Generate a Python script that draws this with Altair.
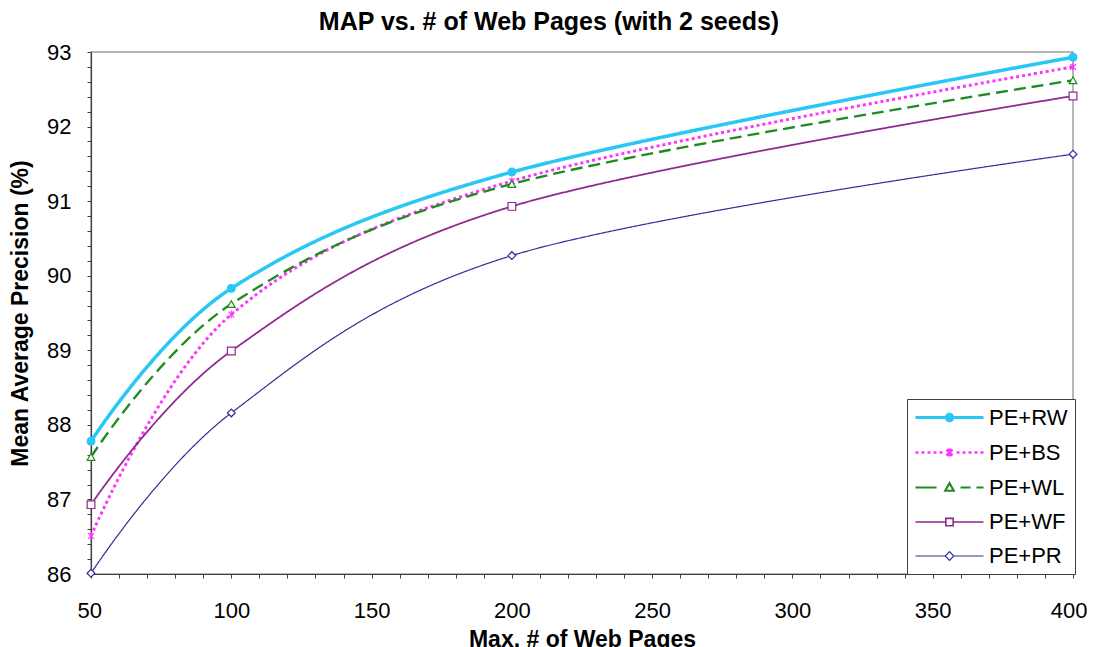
import altair as alt
import pandas as pd
import math

# ---- data ----
pages = [50, 100, 200, 400]
series_names = ["PE+RW", "PE+BS", "PE+WL", "PE+WF", "PE+PR"]
rw = [87.78, 89.83, 91.39, 92.93]
bs = [86.51, 89.48, 91.27, 92.80]
wl = [87.57, 89.62, 91.23, 92.62]
wf = [86.93, 88.99, 90.93, 92.41]
pr = [86.01, 88.16, 90.27, 91.63]

x_ticks = list(range(50, 401, 10))
y_ticks = [round(86 + 0.2 * i, 1) for i in range(36)]

colors = ["#29C8F4", "#FF33FF", "#1E8C1E", "#8E2A8E", "#2E2E96"]
fills = ["#29C8F4", "white", "white", "white", "white"]
line_widths = [3.5, 1.2, 1.2, 1.2, 1.2]
dashes = [[1, 0], [3, 3], [12, 6], [1, 0], [1, 0]]

ASTER = "M0,-1L0,1M-0.75,-0.75L0.75,0.75M-0.75,0.75L0.75,-0.75"
plot_shapes = ["circle", ASTER, "triangle-up", "square", "diamond"]

# ---- legend symbol geometry (pixels, line runs 0..68, marker at 34) ----
LEG_SIZE = 400           # symbol "diameter" 20px -> 10px per path unit
UNIT = math.sqrt(LEG_SIZE) / 2
CENTER = 10              # symbol centre x inside entry


def P(x, y):
    return f"{(x - CENTER) / UNIT:.3f},{y / UNIT:.3f}"


def seg(x1, x2):
    return f"M{P(x1, 0)}L{P(x2, 0)}"


def poly(pts):
    return "M" + "L".join(P(x, y) for x, y in pts) + "Z"


def circle(cx, r, n=14):
    return poly([(cx + r * math.cos(2 * math.pi * k / n), r * math.sin(2 * math.pi * k / n)) for k in range(n)])


C = 34
leg_rw = seg(0, C - 4) + seg(C + 4, 68) + circle(C, 3.3)
leg_bs = "".join(seg(a, a + 3) for a in [0, 6, 12, 18, 24]) + "".join(seg(a, a + 3) for a in [41, 47, 53, 59, 65]) \
    + f"M{P(C, -4)}L{P(C, 4)}M{P(C - 3, -3)}L{P(C + 3, 3)}M{P(C - 3, 3)}L{P(C + 3, -3)}"
leg_wl = seg(0, 21) + seg(45, 55) + seg(61, 68) + poly([(C - 4.3, 3.3), (C, -4.3), (C + 4.3, 3.3)])
leg_wf = seg(0, C - 3.7) + seg(C + 3.7, 68) + poly([(C - 3.7, -3.7), (C + 3.7, -3.7), (C + 3.7, 3.7), (C - 3.7, 3.7)])
leg_pr = seg(0, C - 4.3) + seg(C + 4.3, 68) + poly([(C, -4.3), (C + 4.3, 0), (C, 4.3), (C - 4.3, 0)])
legend_shapes = [leg_rw, leg_bs, leg_wl, leg_wf, leg_pr]
legend_widths = [3, 1.2, 1.2, 1.2, 1.2]

rows = []
for name, vals in zip(series_names, [rw, bs, wl, wf, pr]):
    for p, v in zip(pages, vals):
        rows.append({"pages": p, "map": v, "series": name})
df = pd.DataFrame(rows)

FONT = "Liberation Sans"

x_enc = alt.X(
    "pages:Q",
    scale=alt.Scale(domain=[50, 400], nice=False, zero=False),
    axis=alt.Axis(
        values=x_ticks,
        labelExpr="datum.value % 50 == 0 ? format(datum.value, 'd') : ''",
        title="Max. # of Web Pages",
        labelPadding=22,
        titlePadding=7,
        labelFlush=True,
        labelFlushOffset=14,
    ),
)
y_enc = alt.Y(
    "map:Q",
    scale=alt.Scale(domain=[86, 93], nice=False, zero=False),
    axis=alt.Axis(
        values=y_ticks,
        labelExpr="datum.value % 1 == 0 ? format(datum.value, 'd') : ''",
        title="Mean Average Precision (%)",
        labelPadding=16,
        titlePadding=14,
        labelFlush=False,
    ),
)

sdom = series_names

lines = alt.Chart(df).mark_line(interpolate="cardinal").encode(
    x=x_enc,
    y=y_enc,
    stroke=alt.Stroke("series:N", scale=alt.Scale(domain=sdom, range=colors), legend=None),
    strokeWidth=alt.StrokeWidth("series:N", scale=alt.Scale(domain=sdom, range=line_widths), legend=None),
    strokeDash=alt.StrokeDash("series:N", scale=alt.Scale(domain=sdom, range=dashes), legend=None),
)

points = alt.Chart(df).mark_point(size=60, strokeWidth=1.2, opacity=1).encode(
    x=x_enc,
    y=y_enc,
    stroke=alt.Stroke("series:N", scale=alt.Scale(domain=sdom, range=colors), legend=None),
    fill=alt.Fill("series:N", scale=alt.Scale(domain=sdom, range=fills), legend=None),
    shape=alt.Shape("series:N", scale=alt.Scale(domain=sdom, range=plot_shapes), legend=None),
)

leg = alt.Legend(
    title=None,
    orient="none",
    legendX=816,
    legendY=347,
    symbolSize=LEG_SIZE,
    labelFont=FONT,
    labelFontSize=22,
    labelColor="black",
    labelOffset=52,
    rowPadding=12,
    padding=7,
    strokeColor="#404040",
    fillColor="white",
    symbolStrokeWidth=1.2,
)

legend_layer = alt.Chart(df).transform_filter("false").mark_point(opacity=1).encode(
    stroke=alt.Stroke("series:N", scale=alt.Scale(domain=sdom, range=colors), legend=leg),
    fill=alt.Fill("series:N", scale=alt.Scale(domain=sdom, range=fills), legend=leg),
    shape=alt.Shape("series:N", scale=alt.Scale(domain=sdom, range=legend_shapes), legend=leg),
    strokeWidth=alt.StrokeWidth("series:N", scale=alt.Scale(domain=sdom, range=legend_widths), legend=leg),
)

chart = (
    alt.layer(lines, points, legend_layer)
    .resolve_scale(stroke="independent", fill="independent", shape="independent",
                   strokeWidth="independent", strokeDash="independent")
    .properties(
        width=982,
        height=522,
        autosize=alt.AutoSizeParams(type="none"),
        padding={"left": 83, "top": 44, "right": 14, "bottom": 73},
        title=alt.Title(
            "MAP vs. # of Web Pages (with 2 seeds)",
            font=FONT,
            fontSize=25,
            fontWeight="bold",
            color="black",
            anchor="middle",
            dx=-33,
            offset=6,
        ),
    )
    .configure_view(stroke="#A0A0A0", strokeWidth=1.5)
    .configure_axis(
        grid=False,
        domainColor="#404040",
        domainWidth=1.2,
        tickColor="#404040",
        tickSize=4,
        labelFont=FONT,
        labelFontSize=22,
        labelColor="black",
        labelOverlap=False,
        titleFont=FONT,
        titleFontSize=23,
        titleFontWeight="bold",
        titleColor="black",
    )
)

chart.save("out.html", embed_options={"renderer": "svg", "actions": False})
